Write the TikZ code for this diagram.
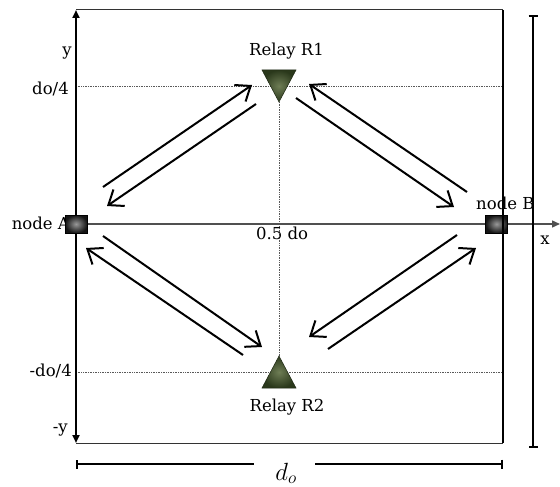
\documentclass[tikz,border=0pt]{standalone}
\usepackage{fontspec}
\setmainfont{DejaVu Serif}
\usetikzlibrary{arrows.meta}
\definecolor{olivelt}{HTML}{6E7D55}
\definecolor{olivedk}{HTML}{2A381B}
\definecolor{axisgray}{HTML}{505050}
\begin{document}
\begin{tikzpicture}[x=1pt,y=-1pt,
  lbl/.style={font=\fontsize{16.5}{18}\selectfont, inner sep=0pt},
  flow/.style={line width=2pt, -{Straight Barb[length=13pt,width=20pt]}},
  thickax/.style={line width=2.2pt},
  thinframe/.style={line width=1pt, draw=black!80},
  guide/.style={densely dotted, line width=0.7pt, draw=black!65},
  endnode/.style={draw=black, line width=0.8pt, inner color=black!40, outer color=black!92, minimum width=22pt, minimum height=18pt, inner sep=0pt},
  relay/.style={draw=olivedk!70!black, line width=0.5pt, inner color=olivelt, outer color=olivedk},
  dimline/.style={line width=2.2pt}
]
\useasboundingbox (0,0) rectangle (560,487);

% named positions
\coordinate (R1) at (279,86);
\coordinate (R2) at (279,372);
\coordinate (ytop) at (76,10);
\coordinate (ybot) at (76,443);
\coordinate (xend) at (560,224);
\coordinate (fTL) at (76,10);
\coordinate (fTR) at (503,10);
\coordinate (fBR) at (503,443);
\coordinate (fBL) at (76,443);
\coordinate (g1a) at (76,86);
\coordinate (g1b) at (503,86);
\coordinate (g2a) at (76,372);
\coordinate (g2b) at (503,372);
\coordinate (R1tip) at (279,102);
\coordinate (R2tip) at (279,356);

% labels behind shapes
\node[lbl, anchor=base east] (labA) at (70,229.3) {node A};
\node[lbl, anchor=base west] (labB) at (476,209) {node B};
\node[lbl, anchor=base] (labR1) at (286.5,56) {Relay R1};
\node[lbl, anchor=base] (labR2) at (287,411.5) {Relay R2};
\node[lbl, anchor=base west] (labmid) at (256,239) {0.5 do};
\node[lbl, anchor=base] (laby) at (67,56) {y};
\node[lbl, anchor=base east] (labq) at (69,95) {do/4};
\node[lbl, anchor=base east] (labmq) at (72,376) {-do/4};
\node[lbl, anchor=base east] (labmy) at (68,432) {-y};
\node[lbl, anchor=base] (labx) at (545,244) {x};
\node[inner sep=0pt, anchor=base] (labdo) at (286,480) {\fontsize{23}{24}\selectfont$d_o$};

% guide lines
\draw[guide] (g1a) -- (g1b);
\draw[guide] (g2a) -- (g2b);
\draw[guide] (R1tip) -- (R2tip);

% frame
\draw[thinframe] (fTL) -- (fTR);
\draw[thinframe] (fBL) -- (fBR);

% axes
\node[coordinate] (xstart) at (76,224) {};
\draw[line width=1.4pt, draw=axisgray, -{Triangle[length=8pt,width=7pt]}] (xstart) -- (xend);
\draw[thickax, {Triangle[length=8pt,width=7pt]}-{Triangle[length=8pt,width=7pt]}] (ybot) -- (ytop);

% relays
\shade[relay] ([shift={(-17,-16)}]R1) -- ([shift={(17,-16)}]R1) -- ([shift={(0,16)}]R1) -- cycle;
\shade[relay] ([shift={(0,-16)}]R2) -- ([shift={(17,16)}]R2) -- ([shift={(-17,16)}]R2) -- cycle;

% end nodes
\node[endnode] (A) at (76,224) {};
\node[endnode] (B) at (496.5,224) {};

% right frame line (over node B)
\draw[thickax] (fTR) -- (fBR);

% flows
\coordinate (a1s) at (103,187); \coordinate (a1e) at (252,85);
\coordinate (a2s) at (256,104); \coordinate (a2e) at (107,206);
\coordinate (a3s) at (467,192); \coordinate (a3e) at (309,84);
\coordinate (a4s) at (296,98);  \coordinate (a4e) at (454,207);
\coordinate (a5s) at (243,355); \coordinate (a5e) at (86,248);
\coordinate (a6s) at (103,236); \coordinate (a6e) at (262,347);
\coordinate (a7s) at (457,235); \coordinate (a7e) at (309,337);
\coordinate (a8s) at (328,349); \coordinate (a8e) at (476,248);
\draw[flow] (a1s) -- (a1e);
\draw[flow] (a2s) -- (a2e);
\draw[flow] (a3s) -- (a3e);
\draw[flow] (a4s) -- (a4e);
\draw[flow] (a5s) -- (a5e);
\draw[flow] (a6s) -- (a6e);
\draw[flow] (a7s) -- (a7e);
\draw[flow] (a8s) -- (a8e);

% dimension lines
\coordinate (dv1) at (533,15); \coordinate (dv2) at (533,448);
\draw[dimline, {Bar[width=9pt]}-{Bar[width=9pt]}] (dv1) -- (dv2);
\coordinate (dh1) at (76,464); \coordinate (dh2) at (254,464);
\coordinate (dh3) at (315,464); \coordinate (dh4) at (503,464);
\draw[dimline, {Bar[width=9pt]}-] (dh1) -- (dh2);
\draw[dimline, -{Bar[width=9pt]}] (dh3) -- (dh4);
\end{tikzpicture}
\end{document}
